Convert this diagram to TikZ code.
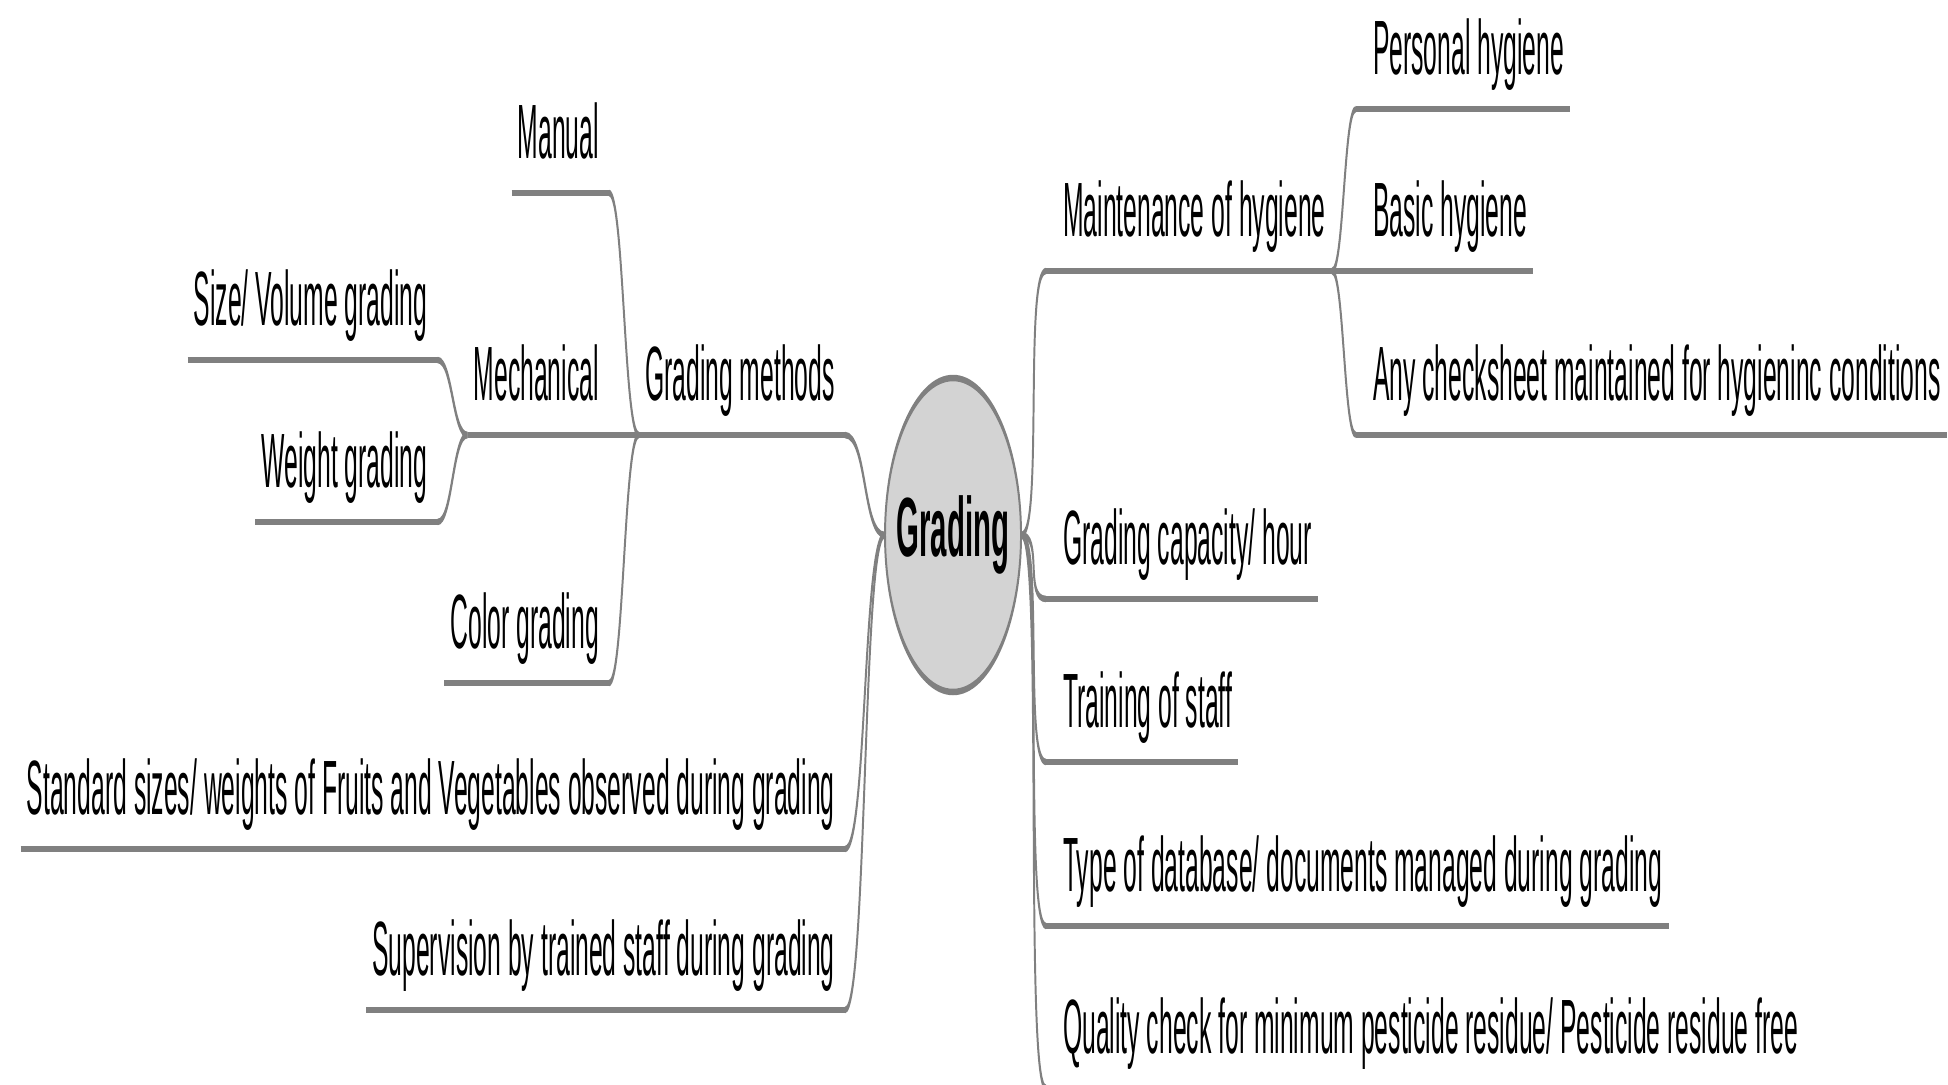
\documentclass[tikz,border=0pt]{standalone}
\usepackage{fontspec}
\setmainfont[FakeStretch=0.321]{Liberation Sans}
\newfontfamily\rootfont[FakeStretch=0.35]{Liberation Sans}
\usetikzlibrary{shapes.geometric,calc}
\definecolor{linegray}{RGB}{128,128,128}
\definecolor{rootfill}{RGB}{211,211,211}
% connector drawn with a horizontally squeezed pen: thick when running
% sideways, thin when running up or down
\newcommand\mmlink[3]{%
  \draw[link] let \p1=(#1), \p2=(#2) in
    ({\x1/0.3},\y1) .. controls +({(#3)/0.3},0) and +({-(#3)/0.3},0) .. ({\x2/0.3},\y2);}
\begin{document}
\begin{tikzpicture}[x=1bp,y=-1bp,
  uline/.style={draw=linegray,line width=6.5bp},
  topic/.style={inner xsep=6bp,inner ysep=0bp,text height=56bp,text depth=34bp,
    font=\fontsize{77bp}{90bp}\selectfont,
    append after command={(\tikzlastnode.south west) edge[uline] (\tikzlastnode.south east)}},
  rtopic/.style={topic,anchor=south west,execute at begin node={\hspace*{11bp}}},
  ltopic/.style={topic,anchor=south east,execute at end node={\hspace*{4bp}}},
  link/.style={draw=linegray,line width=6.5bp,transform canvas={xscale=0.3}},
  rootnode/.style={ellipse,minimum width=136bp,minimum height=314bp,inner sep=0pt,
    font=\rootfont\bfseries\fontsize{84bp}{96bp}\selectfont}]
\useasboundingbox (0,0) rectangle (1948,1084);

% central topic: squeezed outline, then its label
\draw[draw=linegray,fill=rootfill,line width=6.5bp,transform canvas={xscale=0.3}]
  ({953/0.3},535) ellipse [x radius={68/0.3},y radius=157];
\node[rootnode] (root) at (953,535) {\makebox[0pt]{Grading}};

% right-hand branches
\node[rtopic] (hyg) at (1046,271) {Maintenance of hygiene};
\node[rtopic] (cap) at (1046,599) {Grading capacity/ hour};
\node[rtopic] (staff) at (1046,762) {Training of staff};
\node[rtopic] (docs) at (1046,926) {Type of database/ documents managed during grading};
\node[rtopic] (pest) at (1046,1088) {Quality check for minimum pesticide residue/ Pesticide residue free};

\node[rtopic] (pers) at ([xshift=24bp,yshift=162bp]hyg.south east) {Personal hygiene};
\node[rtopic] (basic) at ([xshift=24bp]hyg.south east) {Basic hygiene};
\node[rtopic] (check) at ([xshift=24bp,yshift=-164bp]hyg.south east) {Any checksheet maintained for hygieninc conditions};

% left-hand branches
\node[ltopic] (meth) at (845,435) {Grading methods};
\node[ltopic] (std) at (845,849) {Standard sizes/ weights of Fruits and Vegetables observed during grading};
\node[ltopic] (sup) at (845,1010) {Supervision by trained staff during grading};

\node[ltopic] (manual) at ([xshift=-30bp,yshift=242bp]meth.south west) {Manual};
\node[ltopic] (mech) at ([xshift=-30bp]meth.south west) {Mechanical};
\node[ltopic] (color) at ([xshift=-30bp,yshift=-248bp]meth.south west) {Color grading};

\node[ltopic] (size) at ([xshift=-30bp,yshift=75bp]mech.south west) {Size/ Volume grading};
\node[ltopic] (weight) at ([xshift=-30bp,yshift=-87bp]mech.south west) {Weight grading};

% connectors from the central topic
\foreach \c in {hyg,cap,staff,docs,pest}{\mmlink{root.east}{\c.south west}{22}}
\foreach \c in {meth,std,sup}{\mmlink{root.west}{\c.south east}{-22}}

% connectors between sub-topics
\foreach \c in {pers,basic,check}{\mmlink{hyg.south east}{\c.south west}{12}}
\foreach \c in {manual,mech,color}{\mmlink{meth.south west}{\c.south east}{-15}}
\foreach \c in {size,weight}{\mmlink{mech.south west}{\c.south east}{-15}}
\end{tikzpicture}
\end{document}
